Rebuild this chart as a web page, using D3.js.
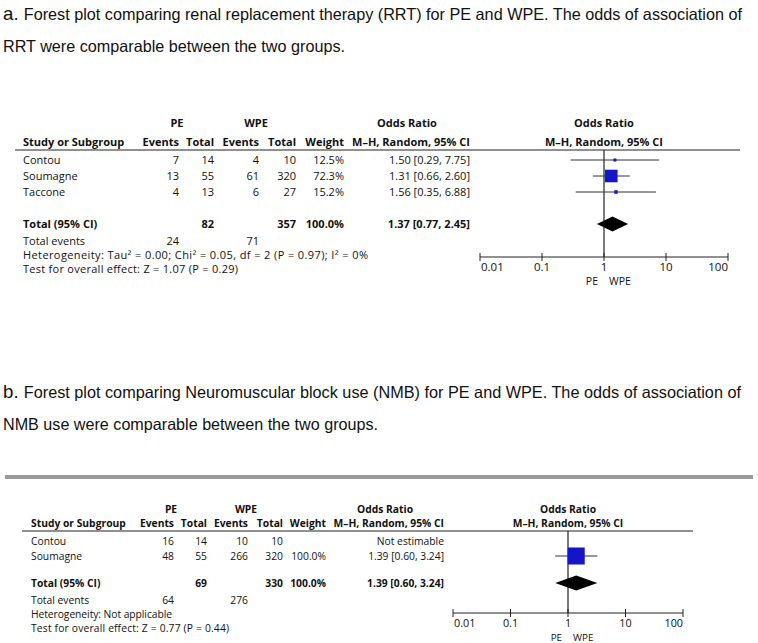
<!DOCTYPE html>
<html>
<head>
<meta charset="utf-8">
<script src="https://cdn.jsdelivr.net/npm/d3@7"></script>
<style>
  body { margin: 0; background: #fff; }
  svg text { fill: #111; }
  .cap { font-family: "Liberation Sans", Arial, sans-serif; font-size: 16.5px; }
  .tab { font-family: "Open Sans", sans-serif; font-size: 11px; }
  .b { font-weight: bold; }
</style>
</head>
<body>
<script>
// ---- data, panel a (RRT) ----
var studiesA = ["Contou", "Soumagne", "Taccone"];
var peEventsA = [7, 13, 4];
var peTotalA = [14, 55, 13];
var wpeEventsA = [4, 61, 6];
var wpeTotalA = [10, 320, 27];
var weightA = [12.5, 72.3, 15.2];
var orA = [1.50, 1.31, 1.56];
var loA = [0.29, 0.66, 0.35];
var hiA = [7.75, 2.60, 6.88];
var totalA = [82, 357, 100.0, 1.37, 0.77, 2.45];   // PE total, WPE total, weight, OR, lo, hi
var totalEventsA = [24, 71];
var hetA = "Heterogeneity: Tau\u00B2 = 0.00; Chi\u00B2 = 0.05, df = 2 (P = 0.97); I\u00B2 = 0%";
var testA = "Test for overall effect: Z = 1.07 (P = 0.29)";

// ---- data, panel b (NMB) ----
var studiesB = ["Contou", "Soumagne"];
var peEventsB = [16, 48];
var peTotalB = [14, 55];
var wpeEventsB = [10, 266];
var wpeTotalB = [10, 320];
var weightB = [null, 100.0];
var orB = [null, 1.39];
var loB = [null, 0.60];
var hiB = [null, 3.24];
var totalB = [69, 330, 100.0, 1.39, 0.60, 3.24];
var totalEventsB = [64, 276];
var hetB = "Heterogeneity: Not applicable";
var testB = "Test for overall effect: Z = 0.77 (P = 0.44)";

var tickValues = [0.01, 0.1, 1, 10, 100];
var tickLabels = ["0.01", "0.1", "1", "10", "100"];

var captionA = ["Forest plot comparing renal replacement therapy (RRT) for PE and WPE. The odds of association of",
                "RRT were comparable between the two groups."];
var captionB = ["Forest plot comparing Neuromuscular block use (NMB) for PE and WPE. The odds of association of",
                "NMB use were comparable between the two groups."];

var W = 758, H = 643;
var svg = d3.select("body").append("svg").attr("width", W).attr("height", H);

// widths are fitted to the reference line lengths
function caption(letter, lines, y1, y2, w1, w2) {
  var t = svg.append("text").attr("class", "cap").attr("x", 3).attr("y", y1)
    .attr("textLength", w1).attr("lengthAdjust", "spacingAndGlyphs");
  t.append("tspan").style("font-size", "19px").text(letter + ". ");
  t.append("tspan").text(lines[0]);
  svg.append("text").attr("class", "cap").attr("x", 3).attr("y", y2)
    .attr("textLength", w2).attr("lengthAdjust", "spacingAndGlyphs").text(lines[1]);
}

function fmt2(v) { return d3.format(".2f")(v); }
function ciText(o, l, h) { return fmt2(o) + " [" + fmt2(l) + ", " + fmt2(h) + "]"; }

function panel(p) {
  var g = svg.append("g");
  var fs = p.fs;
  function txt(x, y, s, anchor, bold) {
    return g.append("text").attr("class", "tab" + (bold ? " b" : ""))
      .style("font-size", fs + "px")
      .attr("x", x).attr("y", y).attr("dy", "0.35em")
      .attr("text-anchor", anchor || "start").text(s);
  }
  var c = p.cols; // right edges: peEv, peTot, wpeEv, wpeTot, weight, or
  // headers
  txt(p.peMid, p.h1, "PE", "middle", true);
  txt(p.wpeMid, p.h1, "WPE", "middle", true);
  txt(p.orMid, p.h1, "Odds Ratio", "middle", true);
  txt(p.x(1), p.h1, "Odds Ratio", "middle", true);
  txt(p.left, p.h2, "Study or Subgroup", "start", true);
  txt(c[0], p.h2, "Events", "end", true);
  txt(c[1], p.h2, "Total", "end", true);
  txt(c[2], p.h2, "Events", "end", true);
  txt(c[3], p.h2, "Total", "end", true);
  txt(c[4], p.h2, "Weight", "end", true);
  txt(c[5], p.h2, "M\u2013H, Random, 95% CI", "end", true);
  txt(p.x(1), p.h2, "M\u2013H, Random, 95% CI", "middle", true);

  g.append("line").attr("x1", p.lineL).attr("x2", p.lineR)
    .attr("y1", p.div).attr("y2", p.div).attr("stroke", "#222").attr("stroke-width", 1.2);

  var rows = p.studies.map(function(s, i) {
    return { name: s, pe: p.peEv[i], pt: p.peTot[i], we: p.wpeEv[i], wt: p.wpeTot[i],
             w: p.weight[i], or: p.or[i], lo: p.lo[i], hi: p.hi[i], y: p.y0 + i * p.dy };
  });

  rows.forEach(function(r) {
    txt(p.left, r.y, r.name);
    txt(c[0], r.y, r.pe, "end");
    txt(c[1], r.y, r.pt, "end");
    txt(c[2], r.y, r.we, "end");
    txt(c[3], r.y, r.wt, "end");
    if (r.w != null) txt(c[4], r.y, d3.format(".1f")(r.w) + "%", "end");
    txt(c[5], r.y, r.or != null ? ciText(r.or, r.lo, r.hi) : "Not estimable", "end");
  });

  // vertical line of no effect
  g.append("line").attr("x1", p.x(1)).attr("x2", p.x(1))
    .attr("y1", p.div).attr("y2", p.axisY).attr("stroke", "#222").attr("stroke-width", 1.2);

  var est = rows.filter(function(r) { return r.or != null; });
  g.selectAll(".ci").data(est).enter().append("line")
    .attr("x1", function(d) { return p.x(d.lo); })
    .attr("x2", function(d) { return p.x(d.hi); })
    .attr("y1", function(d) { return d.y; })
    .attr("y2", function(d) { return d.y; })
    .attr("stroke", "#333").attr("stroke-width", 1);
  g.selectAll(".sq").data(est).enter().append("rect")
    .attr("x", function(d) { return p.x(d.or) - p.size(d.w) / 2; })
    .attr("y", function(d) { return d.y - p.size(d.w) / 2; })
    .attr("width", function(d) { return p.size(d.w); })
    .attr("height", function(d) { return p.size(d.w); })
    .attr("fill", "#1414c8");

  // totals
  var t = p.total;
  txt(p.left, p.ty, "Total (95% CI)", "start", true);
  txt(c[1], p.ty, t[0], "end", true);
  txt(c[3], p.ty, t[1], "end", true);
  txt(c[4], p.ty, d3.format(".1f")(t[2]) + "%", "end", true);
  txt(c[5], p.ty, ciText(t[3], t[4], t[5]), "end", true);
  var dh = p.dh;
  g.append("path")
    .attr("d", "M" + p.x(t[4]) + "," + p.ty + "L" + p.x(t[3]) + "," + (p.ty - dh) +
               "L" + p.x(t[5]) + "," + p.ty + "L" + p.x(t[3]) + "," + (p.ty + dh) + "Z")
    .attr("fill", "#000");

  txt(p.left, p.ey, "Total events");
  txt(c[0], p.ey, p.totEv[0], "end");
  txt(c[2], p.ey, p.totEv[1], "end");
  txt(p.left, p.hy, p.het).attr("textLength", p.hetW).attr("lengthAdjust", "spacing");
  txt(p.left, p.zy, p.test).attr("textLength", p.testW).attr("lengthAdjust", "spacing");

  // axis
  g.append("line").attr("x1", p.x(tickValues[0])).attr("x2", p.x(tickValues[4]))
    .attr("y1", p.axisY).attr("y2", p.axisY).attr("stroke", "#222").attr("stroke-width", 1);
  g.selectAll(".tk").data(tickValues).enter().append("line")
    .attr("x1", function(d) { return p.x(d); }).attr("x2", function(d) { return p.x(d); })
    .attr("y1", p.axisY - 4).attr("y2", p.axisY + 4)
    .attr("stroke", "#222").attr("stroke-width", 1);
  tickValues.forEach(function(v, i) {
    var a = i == 0 ? "start" : (i == tickValues.length - 1 ? "end" : "middle");
    txt(p.x(v) + (i == 0 ? 1 : 0), p.axisY + 10, tickLabels[i], a).style("font-size", (fs + 0.5) + "px");
  });
  g.append("text").attr("class", "tab").style("font-size", (fs - 0.5) + "px")
    .attr("x", p.x(1) - 6).attr("y", p.axisY + 28).attr("text-anchor", "end").text("PE");
  g.append("text").attr("class", "tab").style("font-size", (fs - 0.5) + "px")
    .attr("x", p.x(1) + 5).attr("y", p.axisY + 28).attr("text-anchor", "start").text("WPE");
}

caption("a", captionA, 20, 52, 739, 342);
caption("b", captionB, 398, 430, 738, 375);

panel({
  fs: 11, left: 23, cols: [179, 214, 259, 296, 344, 470],
  peMid: 177, wpeMid: 256, orMid: 407,
  h1: 123, h2: 142, div: 150, lineL: 15, lineR: 740,
  y0: 160, dy: 16, ty: 224, ey: 241, hy: 255, zy: 269, axisY: 257, dh: 7.5,
  hetW: 345, testW: 215,
  x: d3.scaleLog().domain([0.01, 100]).range([480, 728]),
  size: d3.scaleLinear().domain([0, 100]).range([1, 17]),
  studies: studiesA, peEv: peEventsA, peTot: peTotalA, wpeEv: wpeEventsA, wpeTot: wpeTotalA,
  weight: weightA, or: orA, lo: loA, hi: hiA, total: totalA, totEv: totalEventsA,
  het: hetA, test: testA
});

// grey rule above panel b
svg.append("rect").attr("x", 5).attr("y", 475).attr("width", 748).attr("height", 4).attr("fill", "#9a9a9a");

panel({
  fs: 10.3, left: 31, cols: [174, 207, 248, 283, 326, 444],
  peMid: 171, wpeMid: 246, orMid: 385,
  h1: 509, h2: 523, div: 531, lineL: 22, lineR: 693,
  y0: 541, dy: 15, ty: 583, ey: 600, hy: 614, zy: 628, axisY: 613, dh: 7.5,
  hetW: 141, testW: 198,
  x: d3.scaleLog().domain([0.01, 100]).range([453, 683]),
  size: d3.scaleLinear().domain([0, 100]).range([1, 17]),
  studies: studiesB, peEv: peEventsB, peTot: peTotalB, wpeEv: wpeEventsB, wpeTot: wpeTotalB,
  weight: weightB, or: orB, lo: loB, hi: hiB, total: totalB, totEv: totalEventsB,
  het: hetB, test: testB
});
</script>
</body>
</html>
